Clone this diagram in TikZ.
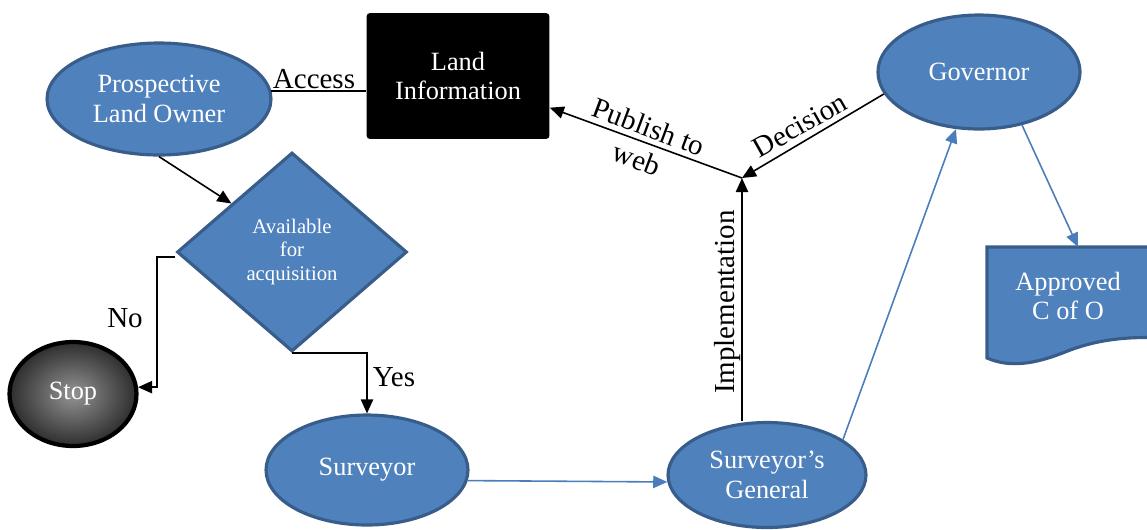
\documentclass[tikz,border=0pt]{standalone}
\usepackage{fontspec}
\setmainfont{Liberation Serif}
\usetikzlibrary{shapes.geometric,arrows.meta,calc}
\definecolor{ofblue}{HTML}{4F81BD}
\definecolor{ofborder}{HTML}{385D8A}
\definecolor{arrblue}{HTML}{4A7EBB}
\begin{document}
\begin{tikzpicture}[x=0.02cm,y=-0.02cm,
  bnode/.style={ellipse, fill=ofblue, draw=ofborder, line width=1.8pt, text=white,
    font=\fontsize{15}{17}\selectfont, align=center, inner sep=0pt},
  elabel/.style={font=\fontsize{16.5}{19.5}\selectfont, inner sep=1pt, align=center},
  blk/.style={draw=black, line width=0.9pt, -{Triangle[length=8pt,width=7pt]}},
  bluearr/.style={draw=arrblue, line width=0.9pt, -{Triangle[length=8pt,width=7pt]}},
  plainline/.style={draw=black, line width=0.9pt}]
\useasboundingbox (0,0) rectangle (1147,529);

% nodes
\node[bnode, minimum width=4.48cm, minimum height=2.24cm] (plo) at (159,99) {Prospective\\Land Owner};
\node[rectangle, fill=black, rounded corners=2pt, text=white, align=center,
  font=\fontsize{15}{17}\selectfont, minimum width=3.66cm, minimum height=2.52cm] (li) at (458,76) {Land\\Information};
\node[diamond, fill=ofblue, draw=ofborder, line width=1.8pt, text=white, align=center,
  font=\fontsize{11.8}{13.6}\selectfont, inner sep=0pt, aspect=1.156,
  minimum width=4.6cm, minimum height=3.98cm] (dia) at (292,252) {Available\\for\\acquisition};
\node[ellipse, draw=black, line width=2.4pt, inner color=black!42, outer color=black!82,
  text=white, font=\fontsize{15}{17}\selectfont, minimum width=2.54cm, minimum height=2.08cm] (stop) at (73,394) {Stop};
\node[bnode, minimum width=4.04cm, minimum height=2.2cm] (sur) at (367,470) {Surveyor};
\node[bnode, minimum width=3.96cm, minimum height=2.1cm] (sg) at (767,475) {Surveyor’s\\General};
\node[bnode, minimum width=4.04cm, minimum height=2.28cm] (gov) at (979,72) {Governor};

% document shape
\begin{scope}
\clip (0,0) rectangle (1147,529);
\draw[fill=ofblue, draw=ofborder, line width=1.8pt]
  (987,247) -- (1165,247) -- (1165,338)
  .. controls (1125,336) and (1095,340) .. (1065,352)
  .. controls (1035,364) and (1010,368) .. (987,358) -- cycle;
\end{scope}
\node[text=white, align=center, font=\fontsize{15}{17}\selectfont] (app) at (1068,296) {Approved\\C of O};
\coordinate (apptop) at (1078,247);

\coordinate (J) at (742,178);

% connectors
\draw[plainline] (plo.4) -- (plo.4 -| li.west);
\node[elabel, anchor=base] (acc) at (314,88) {Access};
\draw[blk] (plo.south) -- ($(dia.west)!0.48!(dia.north)$);
\draw[blk] ([yshift=-3pt]dia.west) -- ([yshift=-3pt]dia.west -| 157,0) |- (stop.6);
\node[elabel] (no) at (125,318) {No};
\draw[blk] (dia.south) -| (sur.north);
\node[elabel] (yes) at (394,377) {Yes};
\draw[bluearr] (sur.-6) -- (sg.184);
\draw[blk] (J |- sg.north) -- (J);
\node[elabel, rotate=90] (impl) at (728,302) {Implementation};
\draw[blk] (gov.193) -- (J);
\node[elabel, rotate=29.5] (dec) at (800,125) {Decision};
\draw[blk] (J) -- ($(li.south east)!0.25!(li.north east)$);
\node[elabel, rotate=-20.5] (pub) at (643,143) {Publish to\\web};
\draw[bluearr] (sg.25) -- (gov.248);
\draw[bluearr] (gov.309) -- (apptop);
\end{tikzpicture}
\end{document}
